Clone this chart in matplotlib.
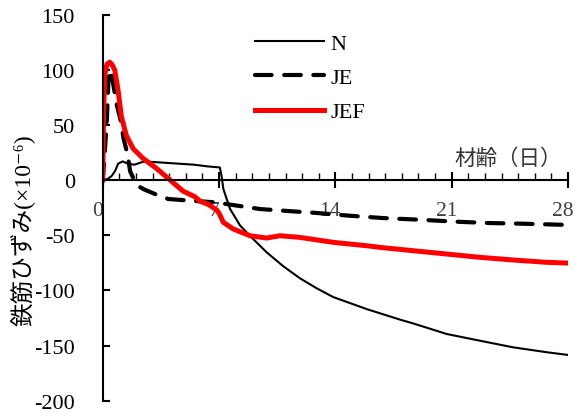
import matplotlib
matplotlib.use("Agg")
import matplotlib.pyplot as plt
from matplotlib.ticker import MultipleLocator
from matplotlib.transforms import ScaledTranslation

plt.rcParams["font.family"] = ["Liberation Serif", "Noto Sans CJK JP", "DejaVu Sans"]
plt.rcParams["axes.unicode_minus"] = False

# age (days) and rebar strain (x10^-6)
n_days = [0, 0.3, 0.55, 0.75, 0.93, 1.2, 1.5, 1.9, 2.5, 3.5, 4.5, 5.5, 6.3, 7.05,
          7.15, 7.26, 7.66, 8.26, 8.86, 9.87, 10.86, 11.87, 12.87, 13.87, 15.9,
          17.9, 18.7, 20.7, 22.7, 24.7, 26.7, 28]
n_strain = [0, 1, 4, 8.5, 15, 17, 15, 14, 17, 16, 15, 14, 12.5, 11.5,
            4, -8, -26, -41, -50.5, -65.5, -78, -89, -98, -106, -117,
            -126.5, -130, -139.5, -145.6, -151.6, -156, -158.5]

je_days = [0, 0.1, 0.25, 0.35, 0.45, 0.6, 0.85, 1.1, 1.25, 1.5, 1.65, 1.9, 2.1,
           2.5, 3.15, 3.95, 5.35, 6.76, 7.46, 9.46, 10.87, 12.9, 14.9, 16.9,
           19.1, 21.3, 23.3, 25.3, 27.5, 28]
je_strain = [0, 20, 55, 92, 100, 90, 68, 53, 38, 23, 8, 0, -5,
             -8.5, -12.6, -17.1, -18.7, -20.1, -21.7, -26.2, -27.7, -29.8, -32.3,
             -34.4, -35.9, -37.7, -38.9, -39.5, -40.4, -40.6]

jef_days = [0, 0.05, 0.12, 0.25, 0.42, 0.55, 0.72, 0.92, 1.12, 1.42, 1.83, 2.43,
            3.23, 4.04, 4.84, 5.54, 5.85, 6.35, 6.65, 6.85, 7.0, 7.26, 7.86,
            8.86, 9.87, 10.66, 11.87, 13.87, 15.9, 16.7, 18.7, 20.7, 22.7,
            24.7, 26.7, 28]
jef_strain = [0, 60, 95, 105, 107, 105, 100, 82, 58, 40.5, 28.6, 19.7,
              10.7, 0.3, -10, -15, -19, -22, -25, -27, -30, -38.3, -44.3,
              -50.4, -52.5, -50.4, -51.9, -56.4, -59.5, -61, -64, -67, -70,
              -72.4, -74.5, -75.2]

x_ticks = [0, 7, 14, 21, 28]
x_labels = ["0", "7", "14", "21", "28"]
y_ticks = [-200, -150, -100, -50, 0, 50, 100, 150]

fig = plt.figure(figsize=(5.81, 4.14), dpi=100)
ax = fig.add_axes([0.1768, 0.0297, 0.8008, 0.9323])

ax.plot(n_days, n_strain, color="black", lw=1.5, label="N")
ax.plot(je_days, je_strain, color="black", lw=3, linestyle=(0, (4, 3)),
        dash_capstyle="round", label="JE")
ax.plot(jef_days, jef_strain, color="red", lw=3.6, label="JEF")

ax.set_xlim(0, 28)
ax.set_ylim(-200, 150)

ax.spines["top"].set_visible(False)
ax.spines["right"].set_visible(False)
ax.spines["bottom"].set_position(("data", 0))
ax.spines["bottom"].set_linewidth(1.5)
ax.spines["left"].set_linewidth(1.5)

ax.set_xticks(x_ticks)
ax.set_xticklabels(x_labels)
ax.xaxis.set_minor_locator(MultipleLocator(1))
ax.tick_params(axis="x", which="major", direction="inout", length=12, width=1.5,
               labelsize=15.5, pad=9, labelcolor="#404040")
ax.tick_params(axis="x", which="minor", direction="in", length=5, width=1)
shift = ScaledTranslation(-5 / 100, 0, fig.dpi_scale_trans)
for lab in ax.get_xticklabels():
    lab.set_transform(lab.get_transform() + shift)

ax.set_yticks(y_ticks)
ax.tick_params(axis="y", direction="in", length=5, width=1.5, labelsize=16, pad=20)

ax.set_ylabel("鉄筋ひずみ(×10⁻⁶)", fontsize=17)
ax.yaxis.set_label_coords(-0.145, 0.445)

ax.text(0.871, 0.628, "材齢（日）", transform=ax.transAxes, fontsize=15.5,
        ha="center", va="center", color="#333333",
        family=["Noto Sans CJK JP", "DejaVu Sans"])

ax.legend(loc="upper left", bbox_to_anchor=(0.327, 0.952), frameon=False,
          fontsize=16, handlelength=3.1, handletextpad=0.3, labelspacing=0.62,
          borderpad=0, borderaxespad=0)

fig.savefig("out.png", dpi=100)
